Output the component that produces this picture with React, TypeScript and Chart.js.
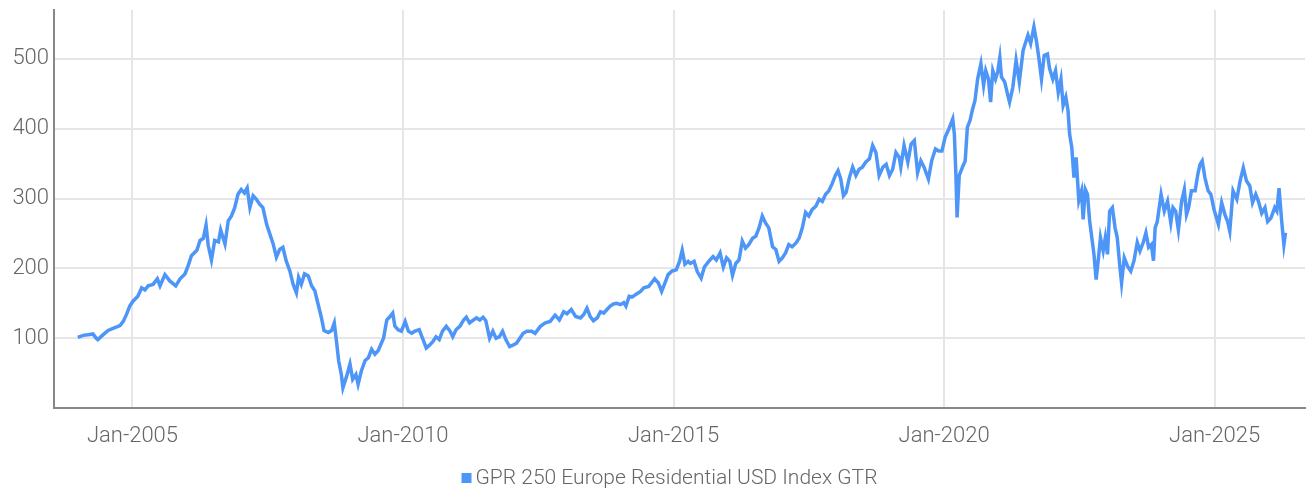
import { useEffect, useRef } from "react";
import { Chart, registerables } from "chart.js";

Chart.register(...registerables);

const seriesLabel = "GPR 250 Europe Residential USD Index GTR";
const xTickYears = [2005, 2010, 2015, 2020, 2025];
const yTickValues = [100, 200, 300, 400, 500];
const tickMonth = "Jan";

// decimal-year dates of the sampled points
const dates = [
  2003.99, 2004.09, 2004.18, 2004.27, 2004.33, 2004.36, 2004.46, 2004.55, 2004.64, 2004.77,
  2004.83, 2004.89, 2004.95, 2005.01, 2005.1, 2005.17, 2005.23, 2005.29, 2005.38, 2005.46,
  2005.51, 2005.6, 2005.69, 2005.8, 2005.88, 2005.97, 2006.03, 2006.09, 2006.19, 2006.25,
  2006.31, 2006.36, 2006.4, 2006.46, 2006.52, 2006.59, 2006.63, 2006.71, 2006.77, 2006.83,
  2006.89, 2006.95, 2007.01, 2007.07, 2007.12, 2007.17, 2007.23, 2007.29, 2007.35, 2007.41,
  2007.48, 2007.54, 2007.6, 2007.66, 2007.72, 2007.78, 2007.84, 2007.91, 2007.97, 2008.03,
  2008.07, 2008.12, 2008.18, 2008.25, 2008.31, 2008.37, 2008.43, 2008.49, 2008.54, 2008.62,
  2008.68, 2008.73, 2008.77, 2008.81, 2008.86, 2008.89, 2008.96, 2009.02, 2009.07, 2009.13,
  2009.17, 2009.23, 2009.3, 2009.36, 2009.42, 2009.48, 2009.54, 2009.64, 2009.7, 2009.76,
  2009.81, 2009.85, 2009.91, 2009.97, 2010.04, 2010.1, 2010.16, 2010.22, 2010.3, 2010.36,
  2010.43, 2010.49, 2010.55, 2010.61, 2010.67, 2010.73, 2010.8, 2010.87, 2010.92, 2010.98,
  2011.05, 2011.12, 2011.17, 2011.23, 2011.3, 2011.36, 2011.42, 2011.48, 2011.53, 2011.6,
  2011.66, 2011.72, 2011.78, 2011.84, 2011.9, 2011.97, 2012.03, 2012.1, 2012.16, 2012.22,
  2012.29, 2012.38, 2012.44, 2012.54, 2012.63, 2012.72, 2012.81, 2012.89, 2012.97, 2013.03,
  2013.11, 2013.19, 2013.28, 2013.34, 2013.4, 2013.46, 2013.52, 2013.59, 2013.65, 2013.71,
  2013.77, 2013.83, 2013.89, 2013.95, 2014.02, 2014.08, 2014.12, 2014.18, 2014.24, 2014.31,
  2014.39, 2014.45, 2014.54, 2014.59, 2014.65, 2014.72, 2014.78, 2014.84, 2014.9, 2014.97,
  2015.05, 2015.11, 2015.16, 2015.21, 2015.27, 2015.31, 2015.38, 2015.44, 2015.51, 2015.57,
  2015.65, 2015.73, 2015.79, 2015.86, 2015.92, 2015.98, 2016.04, 2016.09, 2016.15, 2016.21,
  2016.27, 2016.33, 2016.39, 2016.46, 2016.52, 2016.58, 2016.64, 2016.7, 2016.76, 2016.83,
  2016.89, 2016.95, 2017.01, 2017.07, 2017.13, 2017.19, 2017.26, 2017.32, 2017.38, 2017.44,
  2017.5, 2017.56, 2017.63, 2017.69, 2017.75, 2017.81, 2017.87, 2017.93, 2017.99, 2018.04,
  2018.09, 2018.14, 2018.19, 2018.25, 2018.31, 2018.37, 2018.43, 2018.49, 2018.55, 2018.62,
  2018.68, 2018.74, 2018.8, 2018.87, 2018.93, 2018.99, 2019.05, 2019.11, 2019.17, 2019.2,
  2019.26, 2019.33, 2019.39, 2019.45, 2019.51, 2019.57, 2019.63, 2019.71, 2019.77, 2019.84,
  2019.9, 2019.96, 2020.02, 2020.09, 2020.16, 2020.19, 2020.22, 2020.24, 2020.28, 2020.34,
  2020.39, 2020.43, 2020.48, 2020.52, 2020.57, 2020.62, 2020.68, 2020.73, 2020.77, 2020.82,
  2020.86, 2020.9, 2020.95, 2020.99, 2021.03, 2021.06, 2021.12, 2021.18, 2021.21, 2021.27,
  2021.33, 2021.39, 2021.46, 2021.5, 2021.55, 2021.6, 2021.66, 2021.71, 2021.75, 2021.8,
  2021.85, 2021.91, 2021.95, 2022.01, 2022.06, 2022.11, 2022.16, 2022.2, 2022.25, 2022.29,
  2022.32, 2022.36, 2022.4, 2022.44, 2022.49, 2022.54, 2022.57, 2022.61, 2022.65, 2022.69,
  2022.73, 2022.77, 2022.81, 2022.86, 2022.89, 2022.94, 2022.98, 2023.02, 2023.06, 2023.11,
  2023.16, 2023.2, 2023.25, 2023.28, 2023.33, 2023.39, 2023.45, 2023.51, 2023.57, 2023.62,
  2023.68, 2023.73, 2023.78, 2023.83, 2023.87, 2023.9, 2023.94, 2024.01, 2024.07, 2024.13,
  2024.19, 2024.23, 2024.28, 2024.33, 2024.39, 2024.44, 2024.48, 2024.52, 2024.57, 2024.64,
  2024.69, 2024.73, 2024.77, 2024.82, 2024.88, 2024.93, 2024.99, 2025.07, 2025.13, 2025.19,
  2025.24, 2025.28, 2025.34, 2025.41, 2025.47, 2025.53, 2025.59, 2025.65, 2025.7, 2025.76,
  2025.81, 2025.87, 2025.93, 2025.98, 2026.04, 2026.11, 2026.15, 2026.19, 2026.24, 2026.28,
  2026.31,
];

// index level (USD, gross total return) at each date
const indexValues = [
  101, 104, 105, 106, 100, 98, 105, 111, 114, 118,
  124, 134, 146, 153, 160, 172, 169, 175, 177, 185,
  175, 191, 182, 175, 185, 192, 204, 218, 226, 240,
  243, 262, 233, 212, 240, 238, 255, 235, 268, 275,
  287, 306, 313, 308, 315, 287, 304, 299, 292, 287,
  263, 249, 235, 216, 227, 230, 211, 196, 177, 165,
  187, 177, 192, 189, 175, 168, 149, 130, 111, 108,
  111, 122, 96, 68, 48, 29, 46, 63, 41, 48,
  34, 53, 68, 72, 84, 77, 82, 100, 126, 131,
  136, 117, 112, 110, 124, 110, 107, 110, 112, 100,
  86, 90, 95, 102, 98, 110, 117, 110, 102, 112,
  117, 126, 130, 122, 126, 129, 126, 130, 125, 100,
  110, 100, 102, 110, 98, 88, 90, 93, 100, 107,
  110, 110, 107, 117, 122, 124, 133, 126, 138, 135,
  141, 131, 129, 134, 143, 131, 125, 129, 138, 136,
  141, 146, 149, 150, 148, 151, 146, 160, 159, 163,
  167, 172, 174, 179, 185, 179, 167, 179, 191, 196,
  198, 210, 226, 206, 210, 207, 210, 195, 186, 202,
  210, 217, 212, 222, 202, 215, 210, 190, 207, 212,
  239, 229, 234, 243, 246, 258, 275, 265, 258, 231,
  227, 210, 215, 222, 234, 231, 236, 243, 258, 280,
  275, 284, 289, 299, 296, 306, 311, 321, 333, 340,
  328, 304, 309, 330, 345, 333, 342, 345, 352, 357,
  376, 366, 333, 345, 349, 333, 342, 366, 359, 345,
  376, 352, 378, 383, 337, 354, 345, 328, 354, 371,
  368, 368, 388, 400, 414, 392, 330, 273, 333, 345,
  354, 402, 412, 426, 440, 471, 493, 462, 483, 471,
  438, 483, 471, 481, 502, 474, 467, 447, 438, 459,
  498, 467, 512, 522, 534, 522, 546, 524, 502, 471,
  505, 507, 486, 471, 483, 452, 471, 433, 445, 426,
  392, 373, 330, 359, 297, 311, 270, 313, 306, 268,
  244, 220, 184, 220, 244, 225, 244, 220, 282, 287,
  258, 244, 201, 179, 215, 203, 196, 211, 237, 225,
  237, 251, 230, 234, 211, 258, 267, 306, 282, 296,
  265, 287, 282, 255, 296, 313, 277, 287, 311, 311,
  335, 349, 354, 330, 311, 306, 284, 263, 294, 277,
  267, 253, 311, 299, 325, 344, 325, 318, 294, 306,
  296, 279, 287, 267, 272, 287, 282, 315, 267, 234,
  251,
];

const fontFamily = "Roboto, 'DejaVu Sans', sans-serif";
const fontSize = 22;
const legendFontSize = 21;
const fontWeight = 300;
const textColor = "#666666";
const lineColor = "#4d96f7";

const bottomLegend = {
  id: "bottomLegend",
  afterDraw(chart: any) {
    const ds = chart.data.datasets[0];
    const ctx = chart.ctx;
    ctx.save();
    ctx.font = `${fontWeight} ${legendFontSize}px ${fontFamily}`;
    const tw = ctx.measureText(ds.label).width;
    const box = 10;
    const gap = 4;
    const total = box + gap + tw;
    const cx = (chart.chartArea.left + chart.chartArea.right) / 2 - 10;
    const x0 = cx - total / 2;
    const yMid = chart.height - 14;
    ctx.fillStyle = ds.borderColor;
    ctx.fillRect(x0, yMid - box / 2 - 1, box, box);
    ctx.fillStyle = textColor;
    ctx.textBaseline = "middle";
    ctx.textAlign = "left";
    ctx.fillText(ds.label, x0 + box + gap, yMid);
    ctx.restore();
  },
};

export default function App() {
  const canvasRef = useRef<HTMLCanvasElement | null>(null);

  useEffect(() => {
    document.body.style.margin = "0";
    const canvas = canvasRef.current;
    if (!canvas) return;
    const points = dates.map((d, i) => ({ x: d, y: indexValues[i] }));
    const tickFont = { family: fontFamily, size: fontSize, weight: fontWeight as any };
    const chart = new Chart(canvas, {
      type: "line",
      data: {
        datasets: [
          {
            label: seriesLabel,
            data: points,
            borderColor: lineColor,
            backgroundColor: lineColor,
            borderWidth: 3.5,
            pointRadius: 0,
            tension: 0,
          },
        ],
      },
      plugins: [bottomLegend],
      options: {
        animation: false,
        responsive: true,
        maintainAspectRatio: false,
        layout: { padding: { top: 10, right: 1, left: 0, bottom: 35 } },
        scales: {
          x: {
            type: "linear",
            min: 2003.55,
            max: 2026.67,
            afterBuildTicks: (scale: any) => {
              scale.ticks = xTickYears.map((v) => ({ value: v }));
            },
            afterFit: (scale: any) => {
              scale.height = 50;
              scale.paddingLeft = 0;
              scale.paddingRight = 0;
            },
            ticks: {
              callback: (v: any) => `${tickMonth}-${v}`,
              color: textColor,
              font: tickFont,
              padding: 15,
              maxRotation: 0,
              autoSkip: false,
            },
            grid: { color: "#e6e6e6", lineWidth: 2, drawTicks: false },
            border: { color: "#888888", width: 2 },
          },
          y: {
            min: 0,
            max: 570,
            afterBuildTicks: (scale: any) => {
              scale.ticks = yTickValues.map((v) => ({ value: v }));
            },
            afterFit: (scale: any) => {
              scale.width = 54;
              scale.paddingTop = 0;
              scale.paddingBottom = 0;
            },
            ticks: {
              color: textColor,
              font: tickFont,
              padding: 5,
            },
            grid: { color: "#e6e6e6", lineWidth: 2, drawTicks: false },
            border: { color: "#888888", width: 2 },
          },
        },
        plugins: {
          legend: { display: false },
          tooltip: { enabled: false },
        },
      },
    });
    return () => chart.destroy();
  }, []);

  return (
    <div style={{ position: "relative", width: "1306px", height: "493px" }}>
      <canvas ref={canvasRef} />
    </div>
  );
}
